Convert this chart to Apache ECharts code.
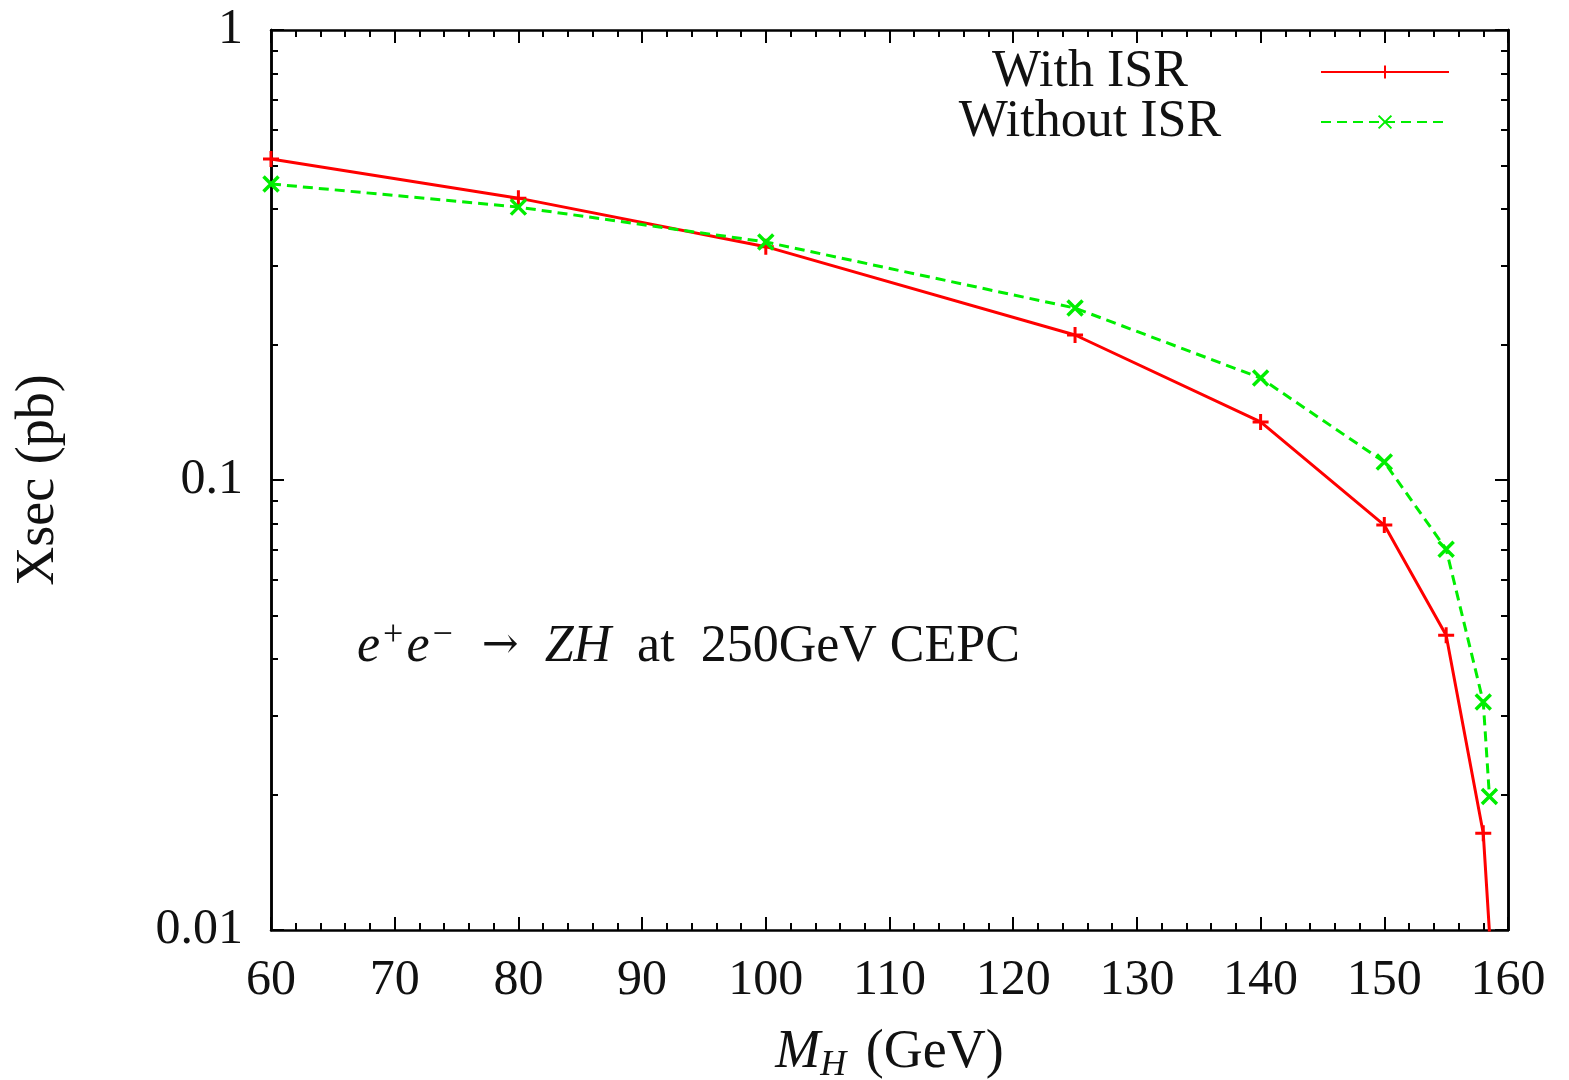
<!DOCTYPE html>
<html>
<head>
<meta charset="utf-8">
<title>ZH cross section vs Higgs mass</title>
<script src="https://cdn.jsdelivr.net/npm/echarts@6/dist/echarts.min.js"></script>
<style>
  html, body { margin: 0; padding: 0; background: #fff; }
  #chart { width: 1569px; height: 1080px; }
</style>
</head>
<body>
<div id="chart"></div>
<script>
// Higgs mass points (GeV)
const massGeV = [60, 80, 100, 125, 140, 150, 155, 158, 158.5];
// e+e- -> ZH cross section (pb) at sqrt(s) = 250 GeV
const xsecWithISR = [0.517, 0.423, 0.330, 0.210, 0.1346, 0.0794, 0.0452, 0.0164, 0.0099];
const xsecWithoutISR = [0.455, 0.404, 0.338, 0.241, 0.1685, 0.1096, 0.0702, 0.0321, 0.0198];

// axis ticks
const xTicks = [60, 70, 80, 90, 100, 110, 120, 130, 140, 150, 160];
const yMajorTicks = [0.01, 0.1, 1];
const yMinorTicks = [0.02, 0.03, 0.04, 0.05, 0.06, 0.07, 0.08, 0.09,
                     0.2, 0.3, 0.4, 0.5, 0.6, 0.7, 0.8, 0.9];

const FONT = '"Liberation Serif", "DejaVu Serif", serif';
const RED = '#ff0000';
const GREEN = '#00ee00';

const plusSymbol = 'path://M0,5L10,5M5,0L5,10';
const crossSymbol = 'path://M0,0L10,10M10,0L0,10';

const chart = echarts.init(document.getElementById('chart'), null, { renderer: 'canvas' });

const frameLine = { show: true, lineStyle: { color: '#000', width: 2.5 } };

function logAxis(opts) {
  return Object.assign({
    type: 'log',
    logBase: 10,
    min: 0.01,
    max: 1,
    splitLine: { show: false },
    axisLine: frameLine
  }, opts);
}

function xAxisDef(opts) {
  return Object.assign({
    type: 'value',
    min: 60,
    max: 160,
    interval: 10,
    splitLine: { show: false },
    axisLine: frameLine,
    axisTick: { show: true, inside: true, length: 13, lineStyle: { color: '#000', width: 2 } },
    minorTick: { show: true, splitNumber: 5, length: 7, lineStyle: { color: '#000', width: 2 } }
  }, opts);
}

const option = {
  backgroundColor: '#ffffff',
  animation: false,
  grid: { left: 271, right: 61, top: 30, bottom: 150, containLabel: false, outerBoundsMode: 'none' },
  legend: {
    orient: 'vertical',
    right: 114,
    top: 41,
    align: 'right',
    itemWidth: 128,
    itemHeight: 16,
    itemGap: -2,
    formatter: name => '{c|' + name + '}',
    textStyle: {
      fontFamily: FONT,
      fontSize: 52,
      color: '#111',
      lineHeight: 40,
      rich: {
        c: { fontFamily: FONT, fontSize: 52, color: '#111', lineHeight: 40,
             width: 280, align: 'center', padding: [0, 86, 0, 0] }
      }
    },
    data: ['With ISR', 'Without ISR']
  },
  xAxis: [
    xAxisDef({
      position: 'bottom',
      name: '{it|M}{sub|H} (GeV)',
      nameLocation: 'middle',
      nameGap: 92,
      nameTextStyle: {
        fontFamily: FONT,
        fontSize: 54,
        color: '#111',
        rich: {
          it: { fontFamily: FONT, fontSize: 54, fontStyle: 'italic', color: '#111' },
          sub: { fontFamily: FONT, fontSize: 36, fontStyle: 'italic', color: '#111',
                 verticalAlign: 'bottom', padding: [26, 6, 0, 0] }
        }
      },
      axisLabel: {
        show: true,
        margin: 26,
        fontFamily: FONT,
        fontSize: 50,
        color: '#111',
        customValues: xTicks
      }
    }),
    xAxisDef({ position: 'top', axisLabel: { show: false } })
  ],
  yAxis: [
    logAxis({
      position: 'left',
      name: 'Xsec (pb)',
      nameLocation: 'middle',
      nameGap: 205,
      nameRotate: 90,
      nameTextStyle: { fontFamily: FONT, fontSize: 54, color: '#111' },
      axisTick: { show: true, inside: true, length: 13, customValues: yMajorTicks,
                  lineStyle: { color: '#000', width: 2 } },
      axisLabel: { show: true, margin: 28, fontFamily: FONT, fontSize: 50, color: '#111',
                   customValues: yMajorTicks,
                   formatter: v => String(+v.toPrecision(3)) }
    }),
    logAxis({
      position: 'left',
      axisTick: { show: true, inside: true, length: 7, customValues: yMinorTicks,
                  lineStyle: { color: '#000', width: 2 } },
      axisLabel: { show: false }
    }),
    logAxis({
      position: 'right',
      axisTick: { show: true, inside: true, length: 13, customValues: yMajorTicks,
                  lineStyle: { color: '#000', width: 2 } },
      axisLabel: { show: false }
    }),
    logAxis({
      position: 'right',
      axisTick: { show: true, inside: true, length: 7, customValues: yMinorTicks,
                  lineStyle: { color: '#000', width: 2 } },
      axisLabel: { show: false }
    })
  ],
  graphic: [
    {
      type: 'text',
      left: 357,
      top: 618,
      z: 10,
      style: {
        text: '{it|e}{sup|+}{it|e}{sup|\u2212}  {ar|\u2192}  {it|ZH}  at  250GeV CEPC',
        fontFamily: FONT,
        fontSize: 52,
        fill: '#111',
        rich: {
          it: { fontFamily: FONT, fontSize: 52, fontStyle: 'italic', fill: '#111' },
          ar: { fontFamily: '"DejaVu Serif", serif', fontSize: 44, fill: '#111' },
          sup: { fontFamily: FONT, fontSize: 36, fill: '#111', verticalAlign: 'top', padding: [0, 3, 22, 3] }
        }
      }
    }
  ],
  series: [
    {
      name: 'With ISR',
      type: 'line',
      xAxisIndex: 0,
      yAxisIndex: 0,
      clip: true,
      data: massGeV.map((m, i) => [m, xsecWithISR[i]]),
      symbol: plusSymbol,
      symbolSize: 16,
      showAllSymbol: true,
      lineStyle: { color: RED, width: 3 },
      itemStyle: { color: RED, borderColor: RED, borderWidth: 3 }
    },
    {
      name: 'Without ISR',
      type: 'line',
      xAxisIndex: 0,
      yAxisIndex: 0,
      clip: true,
      data: massGeV.map((m, i) => [m, xsecWithoutISR[i]]),
      symbol: crossSymbol,
      symbolSize: 15,
      showAllSymbol: true,
      lineStyle: { color: GREEN, width: 3, type: [10, 6] },
      itemStyle: { color: GREEN, borderColor: GREEN, borderWidth: 3.5 }
    }
  ]
};

chart.setOption(option);
</script>
</body>
</html>
